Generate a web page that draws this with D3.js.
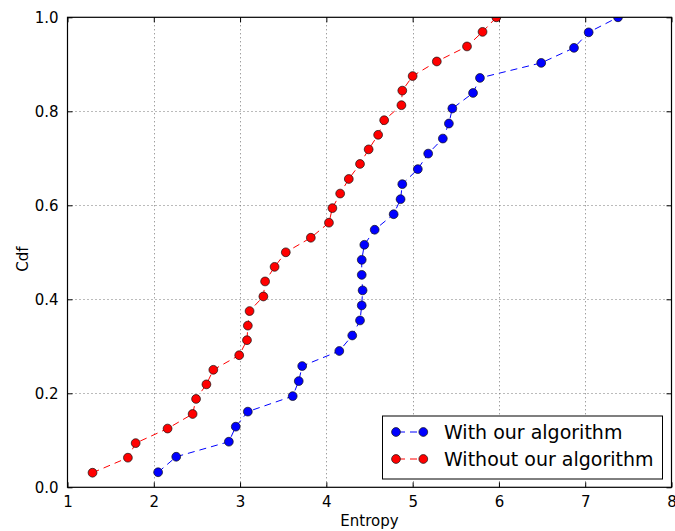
<!DOCTYPE html>
<html>
<head>
<meta charset="utf-8">
<script src="https://cdn.jsdelivr.net/npm/d3@7"></script>
<style>
  html, body { margin: 0; padding: 0; background: #fff; }
  svg { display: block; font-family: "DejaVu Sans", sans-serif; }
</style>
</head>
<body>
<svg id="chart" width="675" height="531"></svg>
<script>
// ---- data ----
const withEntropy = [2.05, 2.26, 2.87, 2.95, 3.09, 3.61, 3.68, 3.72, 4.15, 4.30, 4.39, 4.41, 4.42, 4.41, 4.41, 4.44, 4.56, 4.78, 4.86, 4.88, 5.06, 5.18, 5.35, 5.42, 5.46, 5.70, 5.78, 6.49, 6.87, 7.04, 7.38];
const withCdf = [0.032, 0.065, 0.097, 0.129, 0.161, 0.194, 0.226, 0.258, 0.290, 0.323, 0.355, 0.387, 0.419, 0.452, 0.484, 0.516, 0.548, 0.581, 0.613, 0.645, 0.677, 0.710, 0.742, 0.774, 0.806, 0.839, 0.871, 0.903, 0.935, 0.968, 1.0];
const withoutEntropy = [1.29, 1.70, 1.79, 2.16, 2.45, 2.49, 2.61, 2.69, 2.99, 3.08, 3.09, 3.11, 3.27, 3.29, 3.40, 3.53, 3.82, 4.03, 4.07, 4.16, 4.26, 4.39, 4.49, 4.60, 4.67, 4.87, 4.88, 5.00, 5.28, 5.63, 5.81, 5.97];
const withoutCdf = [0.031, 0.063, 0.094, 0.125, 0.156, 0.188, 0.219, 0.250, 0.281, 0.313, 0.344, 0.375, 0.406, 0.438, 0.469, 0.500, 0.531, 0.563, 0.594, 0.625, 0.656, 0.688, 0.719, 0.750, 0.781, 0.813, 0.844, 0.875, 0.906, 0.938, 0.969, 1.0];
const xTicks = [1, 2, 3, 4, 5, 6, 7, 8];
const yTicks = [0.0, 0.2, 0.4, 0.6, 0.8, 1.0];
const seriesNames = ["With our algorithm", "Without our algorithm"];
const seriesColors = ["#0000ff", "#ff0000"];

// ---- layout ----
const svg = d3.select("#chart");
const L = 67.5, R = 671.5, T = 17.3, B = 487.3;
const x = d3.scaleLinear().domain([1, 8]).range([L, R]);
const y = d3.scaleLinear().domain([0, 1]).range([B, T]);

svg.append("defs").append("clipPath").attr("id", "plotclip")
  .append("rect").attr("x", L).attr("y", T).attr("width", R - L).attr("height", B - T);

// grid
const grid = svg.append("g").attr("stroke", "#777").attr("stroke-width", 1).attr("stroke-dasharray", "1,3");
grid.selectAll("line.gx").data(xTicks.slice(1, -1)).join("line")
  .attr("x1", d => Math.round(x(d)) + 0.5).attr("x2", d => Math.round(x(d)) + 0.5)
  .attr("y1", T).attr("y2", B);
grid.selectAll("line.gy").data(yTicks.slice(1, -1)).join("line")
  .attr("y1", d => Math.round(y(d)) + 0.5).attr("y2", d => Math.round(y(d)) + 0.5)
  .attr("x1", L).attr("x2", R);

// axes (ticks inside, on all four sides)
const fmtY = d3.format(".1f");
const axB = svg.append("g").attr("transform", `translate(0,${B})`)
  .call(d3.axisBottom(x).tickValues(xTicks).tickFormat(d3.format("d")).tickSizeInner(-5).tickSizeOuter(0).tickPadding(9));
const axT = svg.append("g").attr("transform", `translate(0,${T})`)
  .call(d3.axisTop(x).tickValues(xTicks).tickFormat("").tickSizeInner(-5).tickSizeOuter(0));
const axL = svg.append("g").attr("transform", `translate(${L},0)`)
  .call(d3.axisLeft(y).tickValues(yTicks).tickFormat(fmtY).tickSizeInner(-5).tickSizeOuter(0).tickPadding(9));
const axR = svg.append("g").attr("transform", `translate(${R},0)`)
  .call(d3.axisRight(y).tickValues(yTicks).tickFormat("").tickSizeInner(-5).tickSizeOuter(0));
[axB, axT, axL, axR].forEach(a => {
  a.select(".domain").remove();
  a.selectAll("line").attr("stroke", "#000").attr("stroke-width", 1);
  a.selectAll("text").attr("font-family", "DejaVu Sans").attr("font-size", 15).attr("fill", "#000");
});
axB.selectAll("text").attr("dy", "0.71em");

// series
const lineGen = d3.line().x(d => x(d[0])).y(d => y(d[1]));
const series = [
  { name: seriesNames[0], color: seriesColors[0], pts: d3.zip(withEntropy, withCdf) },
  { name: seriesNames[1], color: seriesColors[1], pts: d3.zip(withoutEntropy, withoutCdf) }
];
const plot = svg.append("g").attr("clip-path", "url(#plotclip)");
series.forEach(s => {
  plot.append("path").datum(s.pts).attr("d", lineGen)
    .attr("fill", "none").attr("stroke", s.color).attr("stroke-width", 1)
    .attr("stroke-dasharray", "7,5");
});
series.forEach(s => {
  plot.selectAll(null).data(s.pts).join("circle")
    .attr("cx", d => x(d[0])).attr("cy", d => y(d[1])).attr("r", 4.4)
    .attr("fill", s.color).attr("stroke", "#111").attr("stroke-width", 0.7);
});

// frame
svg.append("rect").attr("x", L).attr("y", T).attr("width", R - L).attr("height", B - T)
  .attr("fill", "none").attr("stroke", "#000").attr("stroke-width", 1.2);

// axis labels
svg.append("text").attr("x", (L + R) / 2).attr("y", 526).attr("text-anchor", "middle")
  .attr("font-size", 15).attr("fill", "#000").text("Entropy");
svg.append("text").attr("transform", "translate(28,259) rotate(-90)").attr("text-anchor", "middle")
  .attr("font-size", 15).attr("fill", "#000").text("Cdf");

// legend
const lg = svg.append("g");
lg.append("rect").attr("x", 382.5).attr("y", 416).attr("width", 280).attr("height", 63)
  .attr("fill", "#fff").attr("stroke", "#000").attr("stroke-width", 1);
const rowY = [432, 459];
series.forEach((s, i) => {
  const g = lg.append("g");
  g.append("line").attr("x1", 396).attr("x2", 423.3).attr("y1", rowY[i]).attr("y2", rowY[i])
    .attr("stroke", s.color).attr("stroke-width", 1).attr("stroke-dasharray", "7,5").attr("stroke-dashoffset", -2);
  [396, 423.3].forEach(cx => g.append("circle").attr("cx", cx).attr("cy", rowY[i]).attr("r", 4.4)
    .attr("fill", s.color).attr("stroke", "#111").attr("stroke-width", 0.7));
  g.append("text").attr("x", 444).attr("y", rowY[i] + 7).attr("font-size", 19).attr("fill", "#000").text(s.name);
});
</script>
</body>
</html>
